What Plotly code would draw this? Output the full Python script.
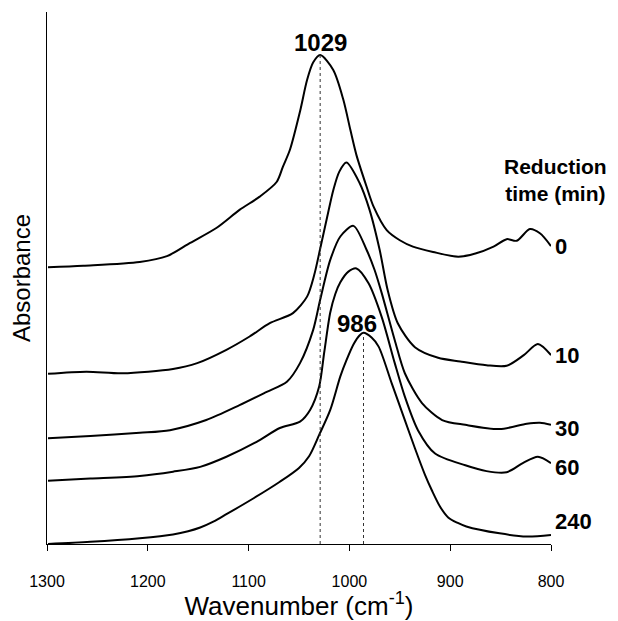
import plotly.graph_objects as go

# Reduction times (min)
labels = ["0", "10", "30", "60", "240"]

# Curve data: wavenumber (cm-1) and absorbance (a.u., offset-stacked)
wn_0 = [1299, 1264, 1208, 1181, 1158, 1132, 1109, 1089, 1072, 1066, 1059, 1049, 1042, 1036, 1029, 1016,
        1006, 999, 993, 983, 976, 963, 950, 937, 917, 892, 875, 857, 844, 834, 821, 811, 800]
ab_0 = [0.520, 0.523, 0.530, 0.541, 0.566, 0.594, 0.628, 0.653, 0.681, 0.709, 0.741, 0.813, 0.872, 0.905, 0.919, 0.891,
        0.835, 0.778, 0.731, 0.672, 0.634, 0.590, 0.571, 0.559, 0.549, 0.540, 0.546, 0.559, 0.573, 0.570, 0.592, 0.584, 0.560]

wn_10 = [1299, 1261, 1225, 1175, 1151, 1122, 1099, 1079, 1056, 1042, 1035, 1029, 1022, 1016, 1010, 1003,
         990, 980, 970, 962, 952, 935, 912, 890, 864, 844, 827, 813, 800]
ab_10 = [0.320, 0.324, 0.321, 0.329, 0.340, 0.365, 0.390, 0.415, 0.434, 0.465, 0.505, 0.555, 0.615, 0.665, 0.700, 0.717,
         0.679, 0.628, 0.553, 0.477, 0.415, 0.370, 0.350, 0.343, 0.336, 0.335, 0.355, 0.376, 0.355]

wn_30 = [1299, 1257, 1208, 1178, 1142, 1109, 1082, 1062, 1049, 1036, 1029, 1019, 1009, 996,
         983, 975, 968, 955, 945, 928, 908, 885, 851, 824, 811, 800]
ab_30 = [0.199, 0.203, 0.209, 0.214, 0.233, 0.261, 0.286, 0.305, 0.340, 0.402, 0.459, 0.534, 0.578, 0.598,
         0.553, 0.515, 0.472, 0.383, 0.321, 0.265, 0.233, 0.224, 0.216, 0.226, 0.228, 0.224]

wn_60 = [1299, 1257, 1208, 1175, 1148, 1122, 1092, 1069, 1049, 1039, 1030, 1025, 1019, 1014, 1009, 1001, 993,
         981, 968, 955, 945, 932, 915, 885, 864, 844, 828, 813, 800]
ab_60 = [0.119, 0.123, 0.128, 0.136, 0.145, 0.164, 0.192, 0.218, 0.230, 0.252, 0.296, 0.360, 0.435, 0.470, 0.492, 0.512, 0.518,
         0.490, 0.427, 0.340, 0.277, 0.214, 0.170, 0.148, 0.137, 0.135, 0.152, 0.164, 0.152]

wn_240 = [1299, 1257, 1208, 1175, 1160, 1148, 1135, 1122, 1095, 1069, 1050, 1040, 1030, 1019, 1009, 1003, 996, 990, 986,
          978, 971, 958, 945, 935, 925, 918, 910, 902, 893, 884, 851, 824, 800]
ab_240 = [0.000, 0.004, 0.011, 0.018, 0.024, 0.031, 0.042, 0.056, 0.086, 0.117, 0.143, 0.165, 0.205, 0.252, 0.315, 0.345,
          0.375, 0.392, 0.397,
          0.388, 0.371, 0.302, 0.233, 0.180, 0.130, 0.100, 0.070, 0.050, 0.040, 0.033, 0.020, 0.014, 0.017]

curves = [(wn_0, ab_0), (wn_10, ab_10), (wn_30, ab_30), (wn_60, ab_60), (wn_240, ab_240)]

# Peak markers
peak_wn = [1029, 986]
peak_ab = [0.919, 0.397]

# Label positions (y) for reduction-time labels
label_y = [0.560, 0.355, 0.218, 0.143, 0.043]

font_family = "Liberation Sans, Arial, sans-serif"

fig = go.Figure()
for (wn, ab), name in zip(curves, labels):
    fig.add_trace(go.Scatter(x=wn, y=ab, mode="lines", name=name,
                             line=dict(color="black", width=2, shape="spline", smoothing=0.8),
                             showlegend=False, hoverinfo="skip"))

for w, a in zip(peak_wn, peak_ab):
    fig.add_trace(go.Scatter(x=[w, w], y=[0, a], mode="lines",
                             line=dict(color="#333333", width=1, dash="dot"),
                             showlegend=False, hoverinfo="skip"))

annotations = []
annotations.append(dict(x=1029, y=0.942, text="<b>1029</b>", showarrow=False,
                        font=dict(family=font_family, size=24, color="black"),
                        xanchor="center", yanchor="middle"))
annotations.append(dict(x=992.5, y=0.414, text="<b>986</b>", showarrow=False,
                        font=dict(family=font_family, size=24, color="black"),
                        xanchor="center", yanchor="middle"))
for t, yv in zip(labels, label_y):
    annotations.append(dict(xref="paper", x=1.003, y=yv, text="<b>%s</b>" % t, showarrow=False,
                            font=dict(family=font_family, size=22, color="black"),
                            xanchor="left", yanchor="middle"))
annotations.append(dict(xref="paper", x=1.0099, y=0.684, text="<b>Reduction<br>time (min)</b>",
                        showarrow=False,
                        font=dict(family=font_family, size=21, color="black"),
                        xanchor="center", yanchor="middle", align="center"))

fig.update_layout(
    width=618, height=621,
    margin=dict(l=47, r=67, t=12, b=77, autoexpand=False),
    paper_bgcolor="white", plot_bgcolor="white",
    font=dict(family=font_family, color="black"),
    annotations=annotations,
    xaxis=dict(range=[1300, 800], tickvals=[1300, 1200, 1100, 1000, 900, 800],
               automargin=False,
               ticks="outside", ticklen=6, tickwidth=1, tickcolor="black",
               ticklabelstandoff=17,
               showline=True, linecolor="black", linewidth=1, mirror=False,
               showgrid=False, zeroline=False,
               tickfont=dict(size=16, family=font_family, color="black"),
               title=dict(text="Wavenumber (cm<sup>-1</sup>)", standoff=10,
                          font=dict(size=26, family=font_family, color="black"))),
    yaxis=dict(range=[0, 1], showticklabels=False, ticks="", automargin=False,
               showline=True, linecolor="black", linewidth=1,
               showgrid=False, zeroline=False,
               title=dict(text="Absorbance", standoff=8,
                          font=dict(size=24, family=font_family, color="black"))),
)

fig.write_html("out.html")
